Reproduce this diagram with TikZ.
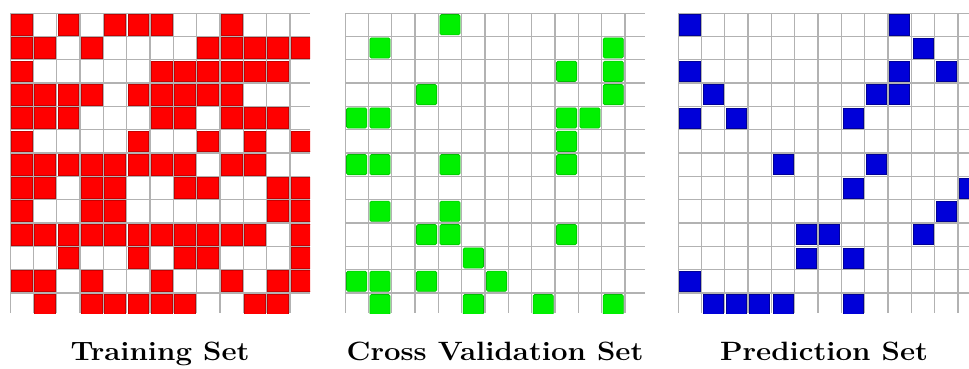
\documentclass[tikz,border=0pt]{standalone}
\begin{document}
\begin{tikzpicture}[x=1pt,y=-1pt,
  gridline/.style={draw=black!30,line width=1.5pt},
  redcell/.style={fill=red,draw=red!78!black,line width=0.9pt},
  greencell/.style={fill=green!90!black!60!green,draw=green!75!black,line width=0.6pt},
  bluecell/.style={fill=blue!85!black,draw=blue!60!black,line width=0.6pt},
  lab/.style={anchor=base,inner sep=0pt,font=\fontsize{26.5}{31}\selectfont\bfseries}]
\useasboundingbox (0,0) rectangle (969,368);
\def\p{23.33}
% ---------- Training set ----------
\begin{scope}[shift={(10,13)}]
  \clip (0,0) rectangle (300,300);
  \foreach \k in {0,...,13} {
    \draw[gridline] (\k*\p,0) -- (\k*\p,300);
    \draw[gridline] (0,\k*\p) -- (300,\k*\p);
  }
  \foreach \r/\cols in {0/{0,2,4,5,6,9},1/{0,1,3,8,9,10,11,12},2/{0,6,7,8,9,10,11},
    3/{0,1,2,3,5,6,7,8,9},4/{0,1,2,6,7,9,10,11},5/{0,5,8,10,12},
    6/{0,1,2,3,4,5,6,7,9,10},7/{0,1,3,4,7,8,11,12},8/{0,3,4,11,12},
    9/{0,1,2,3,4,5,6,7,8,9,10,12},10/{2,5,7,8,12},11/{0,1,3,6,9,11,12},
    12/{1,3,4,5,6,7,10,11}}
    \foreach \c in \cols
      \draw[redcell] ({\c*\p+1.3},{\r*\p+1.3}) rectangle ++(20.7,20.7);
\end{scope}
% ---------- Cross validation set ----------
\begin{scope}[shift={(345,13)}]
  \clip (0,0) rectangle (300,300);
  \foreach \k in {0,...,13} {
    \draw[gridline] (\k*\p,0) -- (\k*\p,300);
    \draw[gridline] (0,\k*\p) -- (300,\k*\p);
  }
  \foreach \r/\cols in {0/{4},1/{1,11},2/{9,11},3/{3,11},4/{0,1,9,10},5/{9},
    6/{0,1,4,9},8/{1,4},9/{3,4,9},10/{5},11/{0,1,3,6},12/{1,5,8,11}}
    \foreach \c in \cols
      \draw[greencell,rounded corners=1.5pt] ({\c*\p+1.5},{\r*\p+1.5}) rectangle ++(20.3,20.3);
\end{scope}
% ---------- Prediction set ----------
\begin{scope}[shift={(678,13)}]
  \clip (0,0) rectangle (291,300);
  \foreach \k in {0,...,13} {
    \draw[gridline] (\k*\p,0) -- (\k*\p,300);
    \draw[gridline] (0,\k*\p) -- (300,\k*\p);
  }
  \foreach \r/\cols in {0/{0,9},1/{10},2/{0,9,11},3/{1,8,9},4/{0,2,7},6/{4,8},
    7/{7,12},8/{11},9/{5,6,10},10/{5,7},11/{0},12/{1,2,3,4,7}}
    \foreach \c in \cols
      \draw[bluecell] ({\c*\p+1.5},{\r*\p+1.5}) rectangle ++(20.3,20.3);
\end{scope}
% ---------- Labels ----------
\node[lab] (lt) at (160,360) {\scalebox{1.11}[1]{Training Set}};
\node[lab] (lc) at (495,360) {\scalebox{1.11}[1]{Cross Validation Set}};
\node[lab] (lp) at (824,360) {\scalebox{1.11}[1]{Prediction Set}};
\end{tikzpicture}
\end{document}
